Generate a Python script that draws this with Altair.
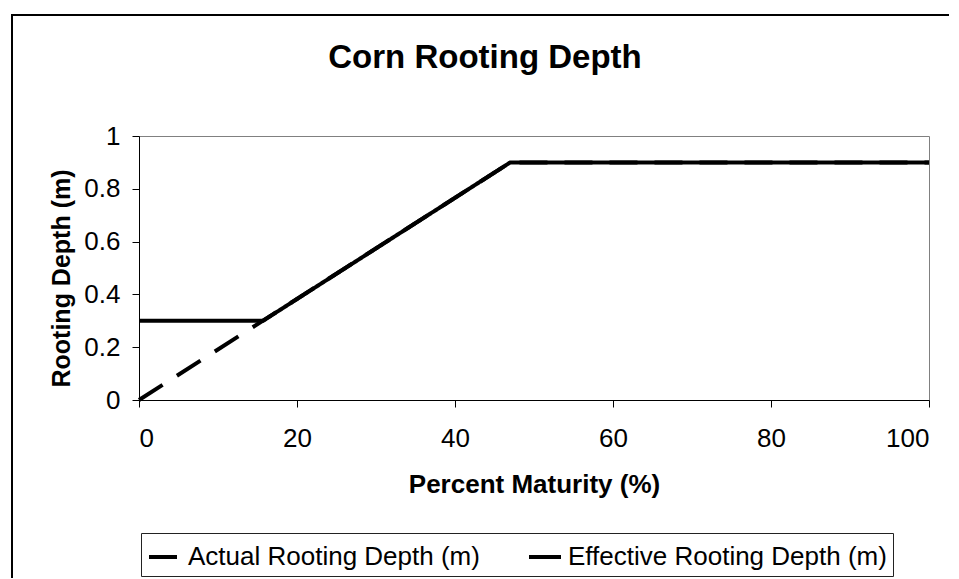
import altair as alt
import pandas as pd

TITLE = "Corn Rooting Depth"
X_TITLE = "Percent Maturity (%)"
Y_TITLE = "Rooting Depth (m)"
SERIES = ["Actual Rooting Depth (m)", "Effective Rooting Depth (m)"]

actual_x = [0, 47, 100]
actual_y = [0.0, 0.9, 0.9]
effective_x = [0, 15.7, 47, 100]
effective_y = [0.3, 0.3, 0.9, 0.9]

x_ticks = [0, 20, 40, 60, 80, 100]
y_ticks = [0, 0.2, 0.4, 0.6, 0.8, 1]

rows = []
for i, (x, y) in enumerate(zip(actual_x, actual_y)):
    rows.append({"series": SERIES[0], "x": x, "y": y, "order": i})
for i, (x, y) in enumerate(zip(effective_x, effective_y)):
    rows.append({"series": SERIES[1], "x": x, "y": y, "order": i})
df = pd.DataFrame(rows)

FONT = "Liberation Sans"
W, H = 790, 264

lines = alt.Chart(df).mark_line(color="black", strokeWidth=4, clip=False).encode(
    x=alt.X("x:Q", scale=alt.Scale(domain=[0, 100], nice=False),
            axis=alt.Axis(values=x_ticks, title=X_TITLE, grid=False,
                          titleY=92, titleBaseline="alphabetic",
                          labelBaseline="alphabetic", labelPadding=39)),
    y=alt.Y("y:Q", scale=alt.Scale(domain=[0, 1], nice=False),
            axis=alt.Axis(values=y_ticks, title=Y_TITLE, grid=False, format="~g",
                          labelPadding=12, titleAngle=270, titleX=-70, titleY=H / 2 + 10,
                          titleFontSize=25,
                          titleBaseline="alphabetic", titleAlign="center")),
    strokeDash=alt.StrokeDash(
        "series:N",
        scale=alt.Scale(domain=SERIES, range=[[28, 17], [1, 0]]),
        legend=alt.Legend(title=None, orient="none", legendX=2, legendY=397,
                          direction="horizontal", columns=2, columnPadding=41,
                          symbolType="stroke", symbolSize=1024, symbolStrokeWidth=4,
                          symbolStrokeColor="black", labelOffset=5,
                          labelFont=FONT, labelFontSize=26, labelColor="black",
                          labelLimit=0,
                          strokeColor="#222222", fillColor="white", padding=6),
    ),
    order="order:Q",
)

one = alt.Data(values=[{"k": 1}])
frame = alt.Chart(one).mark_rect(fill=None, stroke="black", strokeWidth=2).encode(
    x=alt.value(-127), x2=alt.value(W + 60), y=alt.value(-121), y2=alt.value(H + 250))
title = alt.Chart(one).mark_text(
    text=TITLE, font=FONT, fontSize=33, fontWeight="bold", color="black",
    align="center", baseline="alphabetic").encode(
    x=alt.value(346), y=alt.value(-68))

chart = alt.layer(frame, lines, title).properties(
    width=W, height=H,
    padding={"left": 131, "top": 128, "right": 20, "bottom": 178},
    autosize=alt.AutoSizeParams(type="none"),
    background="white",
).configure_view(stroke="#808080", strokeWidth=1).configure_axis(
    domainColor="black", domainWidth=1, tickColor="black", tickSize=7, tickWidth=1,
    labelFont=FONT, labelFontSize=26, labelColor="black",
    titleFont=FONT, titleFontSize=26, titleFontWeight="bold", titleColor="black",
)

chart.save("out.html", embed_options={"renderer": "svg", "actions": False})
